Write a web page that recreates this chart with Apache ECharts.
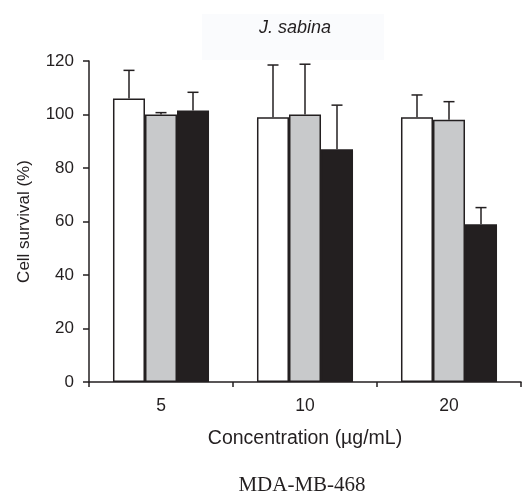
<!DOCTYPE html>
<html>
<head>
<meta charset="utf-8">
<script src="https://cdn.jsdelivr.net/npm/echarts@6/dist/echarts.min.js"></script>
<style>html,body{margin:0;padding:0;background:#fff;}#c{width:529px;height:492px;}</style>
</head>
<body>
<div id="c"></div>
<script>
const categories = ['5', '10', '20'];
const whiteMean = [106, 99, 99];
const whiteErr = [10.5, 19.5, 8.3];
const grayMean = [100, 100, 98];
const grayErr = [0.7, 18.8, 6.8];
const blackMean = [101.5, 87, 59];
const blackErr = [6.8, 16.5, 6.2];
const yTicks = [0, 20, 40, 60, 80, 100, 120];

const dark = '#231f20';
const font = 'Liberation Sans, Arial, sans-serif';
const fills = ['#ffffff', '#c8c9cb', dark];
const means = [whiteMean, grayMean, blackMean];
const errs = [whiteErr, grayErr, blackErr];
const gapRatio = 1 / 3;

const chart = echarts.init(document.getElementById('c'));

function errSeries(k) {
  return {
    type: 'custom',
    z: 1,
    silent: true,
    data: means[k].map((m, i) => [i, m, m + errs[k][i]]),
    encode: { x: 0, y: [1, 2] },
    renderItem: function (params, api) {
      const i = api.value(0);
      const base = api.coord([i, api.value(1)]);
      const top = api.coord([i, api.value(2)]);
      const cw = api.size([1, 0])[0];
      const bw = cw * (1 - gapRatio) / 3;
      const x = base[0] + (k - 1) * bw;
      const half = 5.5;
      return {
        type: 'group',
        children: [
          { type: 'line', shape: { x1: x, y1: base[1], x2: x, y2: top[1] }, style: { stroke: dark, lineWidth: 1.5 } },
          { type: 'line', shape: { x1: x - half, y1: top[1], x2: x + half, y2: top[1] }, style: { stroke: dark, lineWidth: 1.5 } }
        ]
      };
    }
  };
}

const barSeries = means.map((m, k) => ({
  type: 'bar',
  data: m,
  z: 2,
  barGap: '0%',
  barCategoryGap: '33.3%',
  itemStyle: { color: fills[k], borderColor: dark, borderWidth: 1.5 },
  silent: true
}));

chart.setOption({
  animation: false,
  backgroundColor: '#fff',
  graphic: [
    { type: 'rect', shape: { x: 202, y: 14, width: 182, height: 46 }, style: { fill: '#fafbfd' }, z: -10 },
    { type: 'text', x: 302, y: 485, z: 10,
      style: { text: 'MDA-MB-468', fill: dark, font: '21px "Liberation Serif", "Times New Roman", serif', textAlign: 'center', textVerticalAlign: 'middle' } }
  ],
  title: [
    { text: 'J. sabina', left: 290, top: 14, textAlign: 'center',
      textStyle: { fontFamily: font, fontSize: 18, fontStyle: 'italic', fontWeight: 'normal', color: dark } }
  ],
  grid: { left: 89, right: 8, top: 61, bottom: 110, containLabel: false },
  xAxis: {
    type: 'category',
    data: categories,
    name: 'Concentration (µg/mL)',
    nameLocation: 'middle',
    nameGap: 47,
    nameTextStyle: { fontFamily: font, fontSize: 19.5, color: dark },
    axisLine: { lineStyle: { color: dark, width: 1.5 } },
    axisTick: { show: true, length: 5, lineStyle: { color: dark, width: 1.5 } },
    axisLabel: { fontFamily: font, fontSize: 17.5, color: dark, margin: 15 },
    splitLine: { show: false }
  },
  yAxis: {
    type: 'value',
    min: yTicks[0],
    max: yTicks[yTicks.length - 1],
    interval: yTicks[1] - yTicks[0],
    name: 'Cell survival (%)',
    nameLocation: 'middle',
    nameRotate: 90,
    nameGap: 56,
    nameTextStyle: { fontFamily: font, fontSize: 17, color: dark },
    axisLine: { show: true, lineStyle: { color: dark, width: 1.5 } },
    axisTick: { show: true, length: 6, lineStyle: { color: dark, width: 1.5 } },
    axisLabel: { fontFamily: font, fontSize: 17, color: dark, margin: 15 },
    splitLine: { show: false }
  },
  series: [...barSeries, errSeries(0), errSeries(1), errSeries(2)]
});
</script>
</body>
</html>
